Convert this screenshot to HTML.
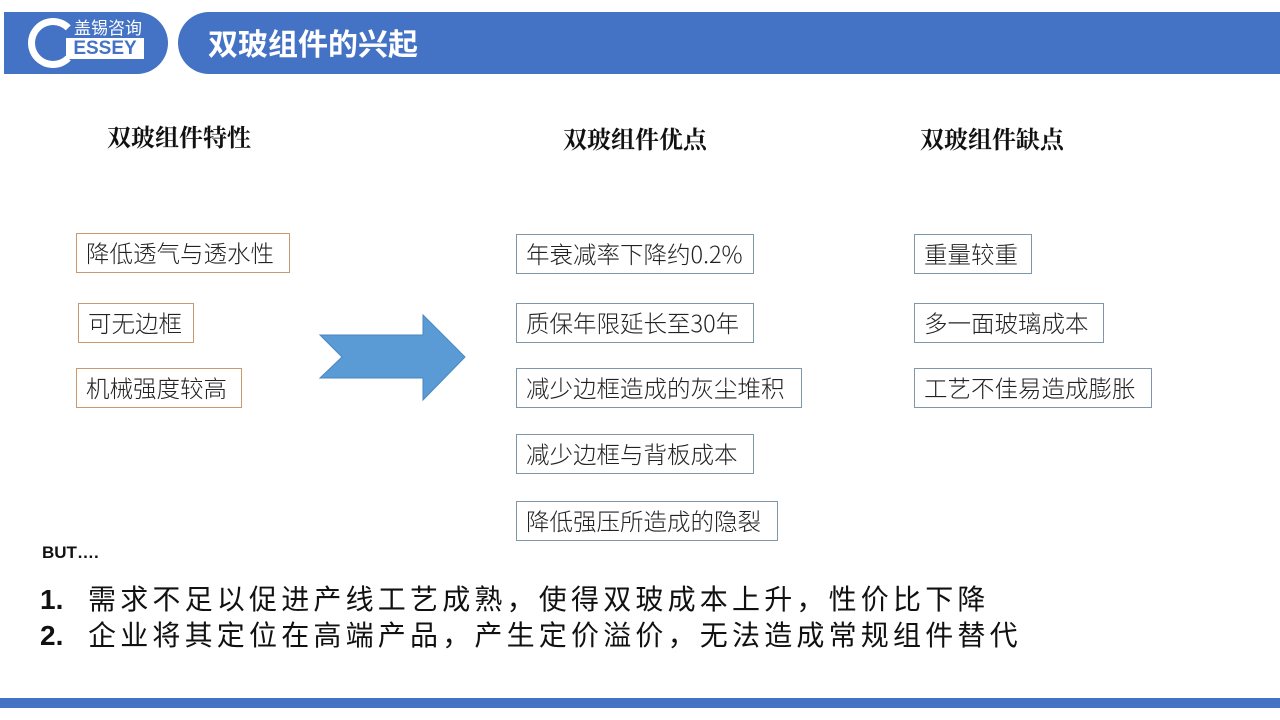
<!DOCTYPE html>
<html><head><meta charset="utf-8"><style>
body{margin:0;width:1280px;height:720px;background:#fff;position:relative;overflow:hidden;font-family:"Liberation Sans","Noto Sans CJK SC",sans-serif}
.a{position:absolute}
.bar1{left:4px;top:12px;width:164px;height:62px;background:#4472c4;border-radius:0 31px 31px 0}
.bar2{left:178px;top:12px;width:1102px;height:62px;background:#4472c4;border-radius:31px 0 0 31px}
.title{left:208px;top:20px;font-size:30px;font-weight:bold;color:#fff;font-family:"Noto Sans CJK SC",sans-serif;line-height:44px}
.h{font-family:"Noto Serif CJK SC",serif;font-weight:bold;font-size:24px;color:#111;line-height:30px}
.b{box-sizing:border-box;height:40px;border:1px solid #c9986e;font-size:23.5px;color:#222;line-height:37px;padding-left:9px;font-family:"Noto Sans CJK SC",sans-serif;font-weight:300;white-space:nowrap}
.c{border-color:#7f97a8}
.l{left:40px;font-size:28px;color:#111;line-height:36px;font-family:"Noto Sans CJK SC",sans-serif;letter-spacing:4.2px}
.l b{display:inline-block;width:48px;font-family:"Liberation Sans",sans-serif;letter-spacing:0}
</style></head><body>
<div class="a bar1"></div>
<div class="a" style="left:28px;top:18px;width:50px;height:50px;border-radius:50%;border:7px solid #fff;box-sizing:border-box;border-right-color:transparent"></div>
<div class="a" style="left:74px;top:17px;color:#fff;font-size:17px;line-height:20px;font-family:'Noto Sans CJK SC',sans-serif">盖锡咨询</div>
<div class="a" style="left:66px;top:38px;width:78px;height:21px;background:#fff;color:#4472c4;font-weight:bold;font-size:19px;line-height:21px;text-align:center">ESSEY</div>
<div class="a bar2"></div>
<div class="a title">双玻组件的兴起</div>

<div class="a h" style="left:107px;top:121px">双玻组件特性</div>
<div class="a h" style="left:563px;top:123px">双玻组件优点</div>
<div class="a h" style="left:920px;top:123px">双玻组件缺点</div>

<div class="a b" style="left:76px;top:233px;width:214px">降低透气与透水性</div>
<div class="a b" style="left:78px;top:303px;width:116px">可无边框</div>
<div class="a b" style="left:76px;top:368px;width:166px">机械强度较高</div>

<svg class="a" style="left:0;top:0" width="1280" height="720"><polygon points="320,335 423,335 423,315 465,357 423,400 423,378 320,378 342,357" fill="#5b9bd5" stroke="#4a86c0" stroke-width="1"/></svg>

<div class="a b c" style="left:516px;top:234px;width:238px">年衰减率下降约0.2%</div>
<div class="a b c" style="left:516px;top:303px;width:238px">质保年限延长至30年</div>
<div class="a b c" style="left:516px;top:368px;width:286px">减少边框造成的灰尘堆积</div>
<div class="a b c" style="left:516px;top:434px;width:238px">减少边框与背板成本</div>
<div class="a b c" style="left:516px;top:501px;width:262px">降低强压所造成的隐裂</div>

<div class="a b c" style="left:914px;top:234px;width:118px">重量较重</div>
<div class="a b c" style="left:914px;top:303px;width:190px">多一面玻璃成本</div>
<div class="a b c" style="left:914px;top:368px;width:238px">工艺不佳易造成膨胀</div>

<div class="a" style="left:42px;top:543px;font-size:17px;font-weight:bold;color:#111">BUT….</div>
<div class="a l" style="top:580px"><b>1.</b>需求不足以促进产线工艺成熟，使得双玻成本上升，性价比下降</div>
<div class="a l" style="top:616px"><b>2.</b>企业将其定位在高端产品，产生定价溢价，无法造成常规组件替代</div>

<div class="a" style="left:0;top:698px;width:1280px;height:10px;background:#4472c4"></div>
</body></html>
